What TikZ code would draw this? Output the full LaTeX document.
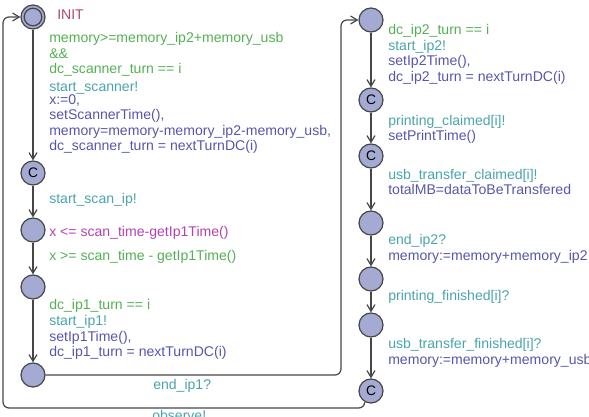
\documentclass[tikz,border=0pt]{standalone}
\usepackage{fontspec}
\setmainfont{Liberation Sans}
\usepackage{xcolor}
\usetikzlibrary{arrows.meta}

\definecolor{locfill}{RGB}{164,170,210}
\definecolor{edgegray}{RGB}{70,70,70}
\definecolor{namecol}{RGB}{172,72,112}
\definecolor{guardcol}{RGB}{84,176,84}
\definecolor{synccol}{RGB}{74,164,170}
\definecolor{updcol}{RGB}{86,86,172}
\definecolor{invcol}{RGB}{178,66,178}

\begin{document}
\begin{tikzpicture}[x=0.75pt,y=0.75pt,yscale=-1,xscale=1,
  loc/.style={circle,draw=edgegray,fill=locfill,line width=0.9pt,minimum size=18pt,inner sep=0pt,font=\fontsize{10.35}{11.55}\selectfont},
  lbl/.style={anchor=base west,inner sep=0pt,align=left,font=\fontsize{10.55}{11.55}\selectfont},
  trans/.style={draw=edgegray,line width=0.9pt,-{Straight Barb[length=5pt,width=6pt]}}]
  \useasboundingbox (0,0) rectangle (589,417);

  %Locations, left column
  \node[loc] (init) at (33,17) {};
  \draw[edgegray,line width=0.9pt] (init.center) circle[radius=6.6pt];
  \node[loc] (scomm) at (33,173) {C};
  \node[loc] (scan) at (33,230) {};
  \node[loc] (wait) at (33,287) {};
  \node[loc] (ipone) at (33,375) {};

  %Locations, right column
  \node[loc] (iptwo) at (371,20) {};
  \node[loc] (pcomm) at (371,100) {C};
  \node[loc] (ucomm) at (371,156) {C};
  \node[loc] (endtwo) at (371,223) {};
  \node[loc] (pfin) at (371,279) {};
  \node[loc] (ufin) at (371,325) {};
  \node[loc] (back) at (371,391) {C};

  %Edges
  \draw[trans] (init) -- (scomm);
  \draw[trans] (scomm) -- (scan);
  \draw[trans] (scan) -- (wait);
  \draw[trans] (wait) -- (ipone);
  \draw[trans,rounded corners=4.5pt] (ipone) -- (341,375) -- (341,20) -- (iptwo);
  \draw[trans] (iptwo) -- (pcomm);
  \draw[trans] (pcomm) -- (ucomm);
  \draw[trans] (ucomm) -- (endtwo);
  \draw[trans] (endtwo) -- (pfin);
  \draw[trans] (pfin) -- (ufin);
  \draw[trans] (ufin) -- (back);
  \draw[trans,rounded corners=4.5pt] (back.240) |- (3,408) |- (init);

  % Text Node (multi-line labels sit on the baseline of their last line)
  \node[lbl,text=namecol] (initname) at (57,19.5) {INIT};
  % Text Node
  \node[lbl,text=guardcol] (gscan) at (49,73.8) {memory>=memory\_ip2+memory\_usb\\\&\&\\dc\_scanner\_turn == i};
  % Text Node
  \node[lbl,text=synccol] (sscan) at (49,91.5) {start\_scanner!};
  % Text Node
  \node[lbl,text=updcol] (uscan) at (49,150.7) {x:=0,\\setScannerTime(),\\memory=memory-memory\_ip2-memory\_usb,\\dc\_scanner\_turn = nextTurnDC(i)};
  % Text Node
  \node[lbl,text=synccol] (sscanip) at (49,204) {start\_scan\_ip!};
  % Text Node
  \node[lbl,text=invcol] (iwait) at (49,236) {x <= scan\_time-getIp1Time()};
  % Text Node
  \node[lbl,text=guardcol] (gwait) at (49,260.5) {x >= scan\_time - getIp1Time()};
  % Text Node
  \node[lbl,text=guardcol] (gipone) at (49,309.5) {dc\_ip1\_turn == i};
  % Text Node
  \node[lbl,text=synccol] (sipone) at (49,325.5) {start\_ip1!};
  % Text Node
  \node[lbl,text=updcol] (uipone) at (49,356.4) {setIp1Time(),\\dc\_ip1\_turn = nextTurnDC(i)};
  % Text Node
  \node[lbl,text=synccol] (sendone) at (153,389) {end\_ip1?};
  % Text Node
  \node[lbl,text=synccol] (sobs) at (152,420) {observe!};

  % Text Node
  \node[lbl,text=guardcol] (giptwo) at (388,35) {dc\_ip2\_turn == i};
  % Text Node
  \node[lbl,text=synccol] (siptwo) at (388,50.5) {start\_ip2!};
  % Text Node
  \node[lbl,text=updcol] (uiptwo) at (388,81.4) {setIp2Time(),\\dc\_ip2\_turn = nextTurnDC(i)};
  % Text Node
  \node[lbl,text=synccol] (spclaim) at (388,125.5) {printing\_claimed[i]!};
  % Text Node
  \node[lbl,text=updcol] (upclaim) at (388,141) {setPrintTime()};
  % Text Node
  \node[lbl,text=synccol] (suclaim) at (388,179.5) {usb\_transfer\_claimed[i]!};
  % Text Node
  \node[lbl,text=updcol] (uuclaim) at (388,195) {totalMB=dataToBeTransfered};
  % Text Node
  \node[lbl,text=synccol] (sendtwo) at (388,244.5) {end\_ip2?};
  % Text Node
  \node[lbl,text=updcol] (uendtwo) at (388,260) {memory:=memory+memory\_ip2};
  % Text Node
  \node[lbl,text=synccol] (spfin) at (388,300.5) {printing\_finished[i]?};
  % Text Node
  \node[lbl,text=synccol] (sufin) at (388,348.5) {usb\_transfer\_finished[i]?};
  % Text Node
  \node[lbl,text=updcol] (uufin) at (388,364) {memory:=memory+memory\_usb};
\end{tikzpicture}
\end{document}
